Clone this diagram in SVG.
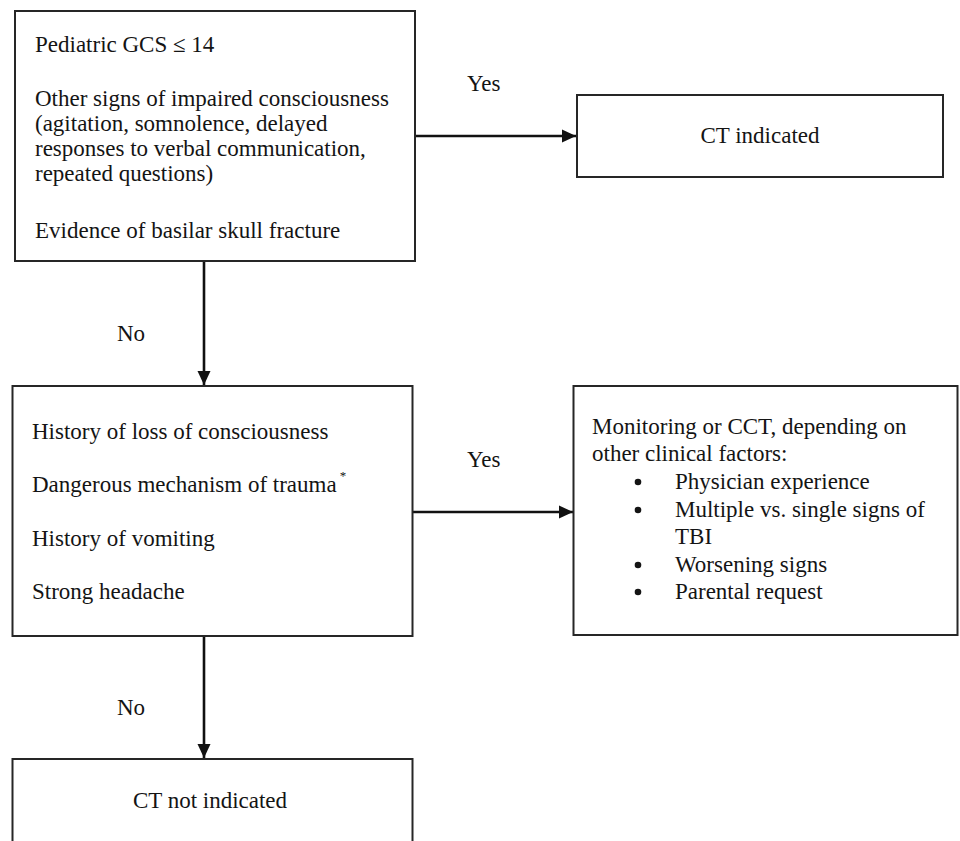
<svg xmlns="http://www.w3.org/2000/svg" width="960" height="841" viewBox="0 0 960 841">
  <style>
    .box { fill: #ffffff; stroke: #262626; stroke-width: 2; }
    .txt { font-family: "Liberation Serif", "Times New Roman", serif; font-size: 23px; fill: #141414; }
    .mid { text-anchor: middle; }
    .sup { font-size: 13px; }
    .edge { fill: none; stroke: #111111; stroke-width: 2.6; }
  </style>
  <defs>
    <marker id="arrow" viewBox="0 0 14 14" refX="14" refY="7" markerWidth="14" markerHeight="14" markerUnits="userSpaceOnUse" orient="auto">
      <path d="M0,0.5 L14,7 L0,13.5 Z" fill="#111111"/>
    </marker>
  </defs>
  <rect width="960" height="841" fill="#ffffff"/>

  <!-- connectors -->
  <g id="connectors">
    <line class="edge" x1="415" y1="136" x2="576" y2="136" marker-end="url(#arrow)"/>
    <line class="edge" x1="204" y1="261" x2="204" y2="385" marker-end="url(#arrow)"/>
    <line class="edge" x1="412" y1="512" x2="573" y2="512" marker-end="url(#arrow)"/>
    <line class="edge" x1="204" y1="636" x2="204" y2="758" marker-end="url(#arrow)"/>
    <text class="txt" x="467" y="91">Yes</text>
    <text class="txt" x="117" y="341">No</text>
    <text class="txt" x="467" y="467">Yes</text>
    <text class="txt" x="117" y="715">No</text>
  </g>

  <!-- high-risk criteria -->
  <g id="high-risk">
    <rect class="box" x="15" y="11" width="400" height="250"/>
    <text class="txt" x="35" y="52">Pediatric GCS ≤ 14</text>
    <text class="txt" x="35" y="106">Other signs of impaired consciousness</text>
    <text class="txt" x="35" y="131">(agitation, somnolence, delayed</text>
    <text class="txt" x="35" y="156">responses to verbal communication,</text>
    <text class="txt" x="35" y="181">repeated questions)</text>
    <text class="txt" x="35" y="238">Evidence of basilar skull fracture</text>
  </g>

  <g id="ct-indicated">
    <rect class="box" x="577" y="95" width="366" height="82"/>
    <text class="txt mid" x="760" y="143">CT indicated</text>
  </g>

  <!-- intermediate-risk criteria -->
  <g id="intermediate-risk">
    <rect class="box" x="12.5" y="386" width="400" height="250"/>
    <text class="txt" x="32" y="439">History of loss of consciousness</text>
    <text class="txt" x="32" y="492">Dangerous mechanism of trauma<tspan class="sup" dx="3" dy="-12">*</tspan></text>
    <text class="txt" x="32" y="546">History of vomiting</text>
    <text class="txt" x="32" y="599">Strong headache</text>
  </g>

  <g id="monitoring">
    <rect class="box" x="573.5" y="386" width="384" height="249"/>
    <text class="txt" x="592" y="434">Monitoring or CCT, depending on</text>
    <text class="txt" x="592" y="461">other clinical factors:</text>
    <g id="factor-bullets" fill="#141414">
      <circle cx="638" cy="482" r="3.3"/>
      <circle cx="638" cy="510" r="3.3"/>
      <circle cx="638" cy="565" r="3.3"/>
      <circle cx="638" cy="592" r="3.3"/>
    </g>
    <text class="txt" x="675" y="489">Physician experience</text>
    <text class="txt" x="675" y="517">Multiple vs. single signs of</text>
    <text class="txt" x="675" y="544">TBI</text>
    <text class="txt" x="675" y="572">Worsening signs</text>
    <text class="txt" x="675" y="599">Parental request</text>
  </g>

  <g id="ct-not-indicated">
    <rect class="box" x="12.5" y="759" width="400" height="100"/>
    <text class="txt mid" x="210" y="808">CT not indicated</text>
  </g>
</svg>
